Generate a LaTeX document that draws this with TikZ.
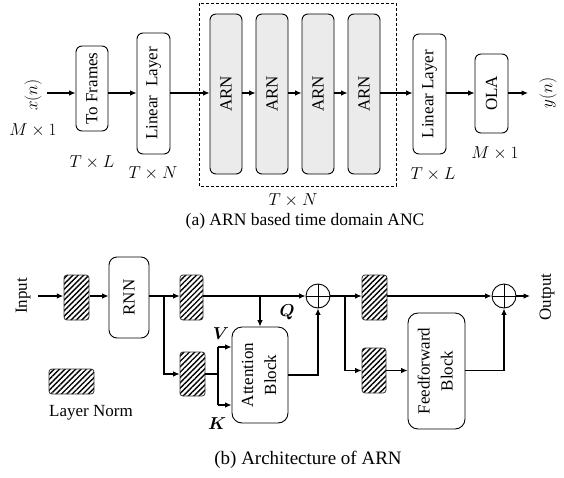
\documentclass[tikz,border=0pt]{standalone}
\usepackage{fontspec}
\setmainfont{Liberation Serif}
\usepackage{amsmath,bm}
\usetikzlibrary{arrows.meta,patterns.meta}

\tikzset{
  every node/.style={font=\fontsize{17}{19}\selectfont},
  blk/.style={draw, line width=0.9pt, rounded corners=6pt, inner sep=0pt, align=center},
  arnblk/.style={blk, fill=black!8},
  bigblk/.style={blk, rounded corners=10pt, font=\fontsize{17}{23}\selectfont},
  lnorm/.style={draw=black!80, line width=0.8pt, rounded corners=3pt, inner sep=0pt,
    preaction={fill=white},
    pattern={Lines[angle=45,distance=3.8pt,line width=1.4pt]}},
  plus/.style={draw, circle, line width=0.9pt, minimum size=24pt, inner sep=0pt,
    path picture={\draw[line width=0.9pt]
      (path picture bounding box.north) -- (path picture bounding box.south)
      (path picture bounding box.west) -- (path picture bounding box.east);}},
  wire/.style={line width=1.1pt},
  arr/.style={wire, -{Latex[length=6.5pt,width=5.5pt]}},
  dim/.style={inner sep=0pt},
  captext/.style={font=\fontsize{17.5}{20}\selectfont, inner sep=0pt},
}

\begin{document}
\begin{tikzpicture}[x=1pt,y=-1pt]
  \fill[white] (0,0) rectangle (564,477);
  \useasboundingbox (0,0) rectangle (564,477);

  % ---------- (a) time-domain ANC pipeline ----------
  \draw[line width=0.8pt, dash pattern=on 3pt off 2pt] (199,3) rectangle (396,186);

  \node[blk, minimum width=32pt, minimum height=85pt] (tf) at (92,88.5) {\rotatebox{90}{To Frames}};
  \node[blk, minimum width=33pt, minimum height=121pt] (ll1) at (153.5,93.5) {\rotatebox{90}{Linear\ \ Layer}};
  \node[arnblk, minimum width=32pt, minimum height=160pt] (arn1) at (226,94) {\rotatebox{90}{ARN}};
  \node[arnblk, minimum width=32pt, minimum height=160pt] (arn2) at (272,94) {\rotatebox{90}{ARN}};
  \node[arnblk, minimum width=32pt, minimum height=160pt] (arn3) at (318,94) {\rotatebox{90}{ARN}};
  \node[arnblk, minimum width=32pt, minimum height=160pt] (arn4) at (364,94) {\rotatebox{90}{ARN}};
  \node[blk, minimum width=33pt, minimum height=120pt] (ll2) at (429.5,94) {\rotatebox{90}{Linear Layer}};
  \node[blk, minimum width=33pt, minimum height=79pt] (ola) at (491.5,93.5) {\rotatebox{90}{OLA}};

  \node[dim, rotate=90] (xn) at (33,95) {$x(n)$};
  \node[dim, rotate=90] (yn) at (548,93) {$y(n)$};
  \coordinate (ain) at (47,93);
  \coordinate (aout) at (528,93);

  \draw[arr] (ain) -- (ain -| tf.west);
  \draw[arr] (tf.east |- ain) -- (ll1.west |- ain);
  \draw[arr] (ll1.east |- ain) -- (arn1.west |- ain);
  \draw[arr] (arn1.east |- ain) -- (arn2.west |- ain);
  \draw[arr] (arn2.east |- ain) -- (arn3.west |- ain);
  \draw[arr] (arn3.east |- ain) -- (arn4.west |- ain);
  \draw[arr] (arn4.east |- ain) -- (ll2.west |- ain);
  \draw[arr] (ll2.east |- ain) -- (ola.west |- ain);
  \draw[arr] (ola.east |- ain) -- (aout);

  \node[dim] (d1) at (33,130) {$M\times1$};
  \node[dim] (d2) at (92,162) {$T\times L$};
  \node[dim] (d3) at (153,173) {$T\times N$};
  \node[dim] (d4) at (293,200) {$T\times N$};
  \node[dim] (d5) at (433,174) {$T\times L$};
  \node[dim] (d6) at (495,153) {$M\times1$};
  \node[captext] (capa) at (305,221) {(a) ARN based time domain ANC};

  % ---------- (b) ARN block ----------
  \node[dim, rotate=90] (inlbl) at (23,296) {Input};
  \node[dim, rotate=90] (outlbl) at (547,297) {Output};
  \coordinate (bin) at (38,296);
  \coordinate (bout) at (530,296);

  \node[lnorm, minimum width=25pt, minimum height=45pt] (ln1) at (76.5,297.5) {};
  \node[blk, rounded corners=8pt, minimum width=40pt, minimum height=81pt] (rnn) at (129,297.5) {\rotatebox{90}{RNN}};
  \node[lnorm, minimum width=23pt, minimum height=45pt] (ln2) at (191.5,297.5) {};
  \node[lnorm, minimum width=25pt, minimum height=44pt] (ln3) at (192.5,374) {};
  \node[bigblk, minimum width=56pt, minimum height=96pt] (att) at (260,375) {\rotatebox{90}{\begin{tabular}{c}Attention\\Block\end{tabular}}};
  \node[plus] (p1) at (318,296) {};
  \node[lnorm, minimum width=25pt, minimum height=45pt] (ln4) at (374.5,297.5) {};
  \node[lnorm, minimum width=24pt, minimum height=45pt] (ln5) at (374,370.5) {};
  \node[bigblk, minimum width=57pt, minimum height=116pt] (ff) at (436.5,371) {\rotatebox{90}{\begin{tabular}{c}Feedforward\\Block\end{tabular}}};
  \node[plus] (p2) at (504,296) {};

  % legend
  \node[lnorm, minimum width=45pt, minimum height=25pt] (lnkey) at (71.5,381.5) {};
  \node[dim] (lnkeytxt) at (91,413) {Layer Norm};

  % wiring
  \coordinate (b1) at (164,296);
  \coordinate (b2) at (345,296);
  \coordinate (jv) at (218,347);
  \coordinate (jk) at (218,405);

  \draw[arr] (bin) -- (bin -| ln1.west);
  \draw[arr] (ln1.east |- bin) -- (rnn.west |- bin);
  \draw[arr] (rnn.east |- bin) -- (ln2.west |- bin);
  \draw[arr] (b1) |- (ln3.west);
  \draw[arr] (ln2.east |- bin) -- (p1.west);
  \draw[arr] (att.north |- bin) -- (att.north);
  \draw[wire] (ln3.east) -- (ln3.east -| jv);
  \draw[wire] (jv) -- (jk);
  \draw[arr] (jv) -- (jv -| att.west);
  \draw[arr] (jk) -- (jk -| att.west);
  \draw[arr] (att.east) -| (p1.south);
  \draw[arr] (p1.east) -- (ln4.west |- bin);
  \draw[arr] (b2) |- (ln5.west);
  \draw[arr] (ln5.east) -- (ln5.east -| ff.west);
  \draw[arr] (ln4.east |- bin) -- (p2.west);
  \draw[arr] (ff.east |- ln5.east) -| (p2.south);
  \draw[arr] (p2.east) -- (bout);

  \node[dim] (qlbl) at (287,312) {$\bm{Q}$};
  \node[dim] (vlbl) at (221,334) {$\bm{V}$};
  \node[dim] (klbl) at (217,424) {$\bm{K}$};

  \node[captext, font=\fontsize{19}{21}\selectfont] (capb) at (308,460) {(b) Architecture of ARN};
\end{tikzpicture}
\end{document}
